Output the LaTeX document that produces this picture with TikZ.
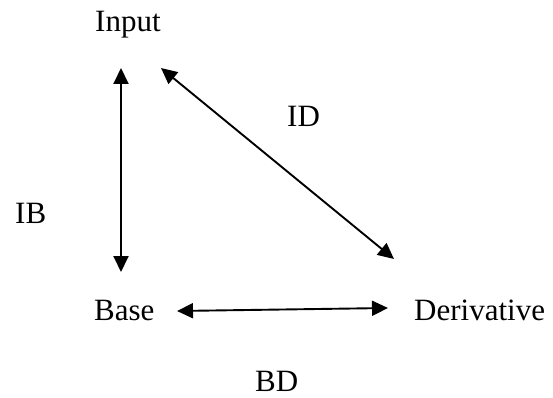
\documentclass[tikz,border=0pt]{standalone}
\usepackage{fontspec}
\setmainfont{Liberation Serif}
\usetikzlibrary{arrows.meta}
\begin{document}
\begin{tikzpicture}[x=1pt,y=-1pt,
  lbl/.style={anchor=base west,inner sep=0pt,font=\fontsize{31}{37}\selectfont},
  dbl/.style={line width=1.9pt,{Triangle[length=16pt,width=15pt]}-{Triangle[length=16pt,width=15pt]}}]
\useasboundingbox[fill=white] (0,0) rectangle (553,398);
\node[lbl] (input) at (95,32) {Input};
\node[lbl] (id) at (287,127) {ID};
\node[lbl] (ib) at (15,223) {IB};
\node[lbl] (base) at (94,320) {Base};
\node[lbl] (deriv) at (414,320) {Derivative};
\node[lbl] (bd) at (255,391) {BD};
\coordinate (ibtop) at (121,68);
\coordinate (ibbot) at (121,272);
\coordinate (idtop) at (161,68);
\coordinate (idbot) at (394,259);
\coordinate (bdleft) at (177,311);
\coordinate (bdright) at (388,308);
\draw[dbl] (ibtop) -- (ibbot);
\draw[dbl] (idtop) -- (idbot);
\draw[dbl] (bdleft) -- (bdright);
\end{tikzpicture}
\end{document}
